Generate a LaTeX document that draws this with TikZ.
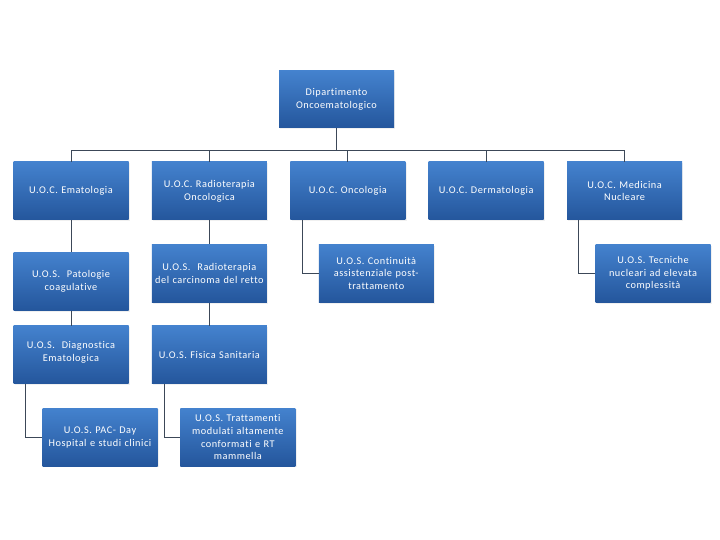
\documentclass[tikz,border=0pt]{standalone}
\usepackage{fontspec}
\setmainfont{Carlito}[LetterSpace=5, Ligatures=NoCommon]
\usetikzlibrary{positioning,shadows}
\definecolor{unitop}   {RGB}{68 ,130,206}
\definecolor{unibottom}{RGB}{36 ,86 ,156}
\definecolor{linkgray} {RGB}{60 ,72 ,88}

\begin{document}
\begin{tikzpicture}[
  x=1pt, y=-1pt,
  every node/.style={font=\fontsize{10.3}{12.8}\selectfont, align=center},
  unit/.style={top color=unitop, bottom color=unibottom, text=white,
    minimum width=115pt, minimum height=58pt, text width=114pt, inner sep=0.5pt,
    drop shadow={opacity=0.12, shadow xshift=1.2pt, shadow yshift=-1.2pt}},
  link/.style={draw=linkgray, line width=0.8pt}
]
  \useasboundingbox (0,0) rectangle (720,540);

  % Nodes
  \node (dip) [unit, minimum height=57pt] at (336.5,99.5) {Dipartimento\\Oncoematologico};

  \node (ema) [unit] at (71,191) {U.O.C. Ematologia};
  \node (radio) [unit, right=23pt of ema] {U.O.C. Radioterapia\\Oncologica};
  \node (onco) [unit, right=23pt of radio] {U.O.C. Oncologia};
  \node (derm) [unit, right=23pt of onco] {U.O.C. Dermatologia};
  \node (med) [unit, right=23pt of derm] {U.O.C. Medicina\\Nucleare};

  \node (pato) [unit, below=32pt of ema] {U.O.S.\ \ Patologie\\coagulative};
  \node (diag) [unit, below=15pt of pato, text depth=19pt] {U.O.S.\ \ Diagnostica\\Ematologica};
  \node (pac) [unit, below=24pt of diag, xshift=29pt] {U.O.S. PAC- Day\\Hospital e studi clinici};

  \node (retto) [unit, below=24pt of radio] {U.O.S.\ \ Radioterapia\\del carcinoma del retto};
  \node (fisica) [unit, below=23pt of retto] {U.O.S. Fisica Sanitaria};
  \node (tratt) [unit, below=24pt of fisica, xshift=28.5pt] {U.O.S. Trattamenti\\modulati altamente\\conformati e RT\\mammella};

  \node (cont) [unit, below=24pt of onco, xshift=28.5pt] {U.O.S. Continuità\\assistenziale post-\\trattamento};
  \node (tecn) [unit, below=24pt of med, xshift=28.5pt] {U.O.S. Tecniche\\nucleari ad elevata\\complessità};

  \coordinate (bus) at (0,150);

  % Paths
  \draw [link] (dip) -- (dip |- bus);
  \draw [link] (ema) -- (ema |- bus) -- (med |- bus) -- (med);
  \foreach \u in {radio,onco,derm}
    \draw [link] (\u) -- (\u |- bus);
  \draw [link] (ema) -- (pato);
  \draw [link] (pato) -- (diag);
  \draw [link] (radio) -- (retto);
  \draw [link] (retto) -- (fisica);
  \draw [link] ([xshift=12pt]diag.south west) |- (pac);
  \draw [link] ([xshift=13pt]fisica.south west) |- (tratt);
  \draw [link] ([xshift=12pt]onco.south west) |- (cont);
  \draw [link] ([xshift=11pt]med.south west) |- (tecn);
\end{tikzpicture}
\end{document}
